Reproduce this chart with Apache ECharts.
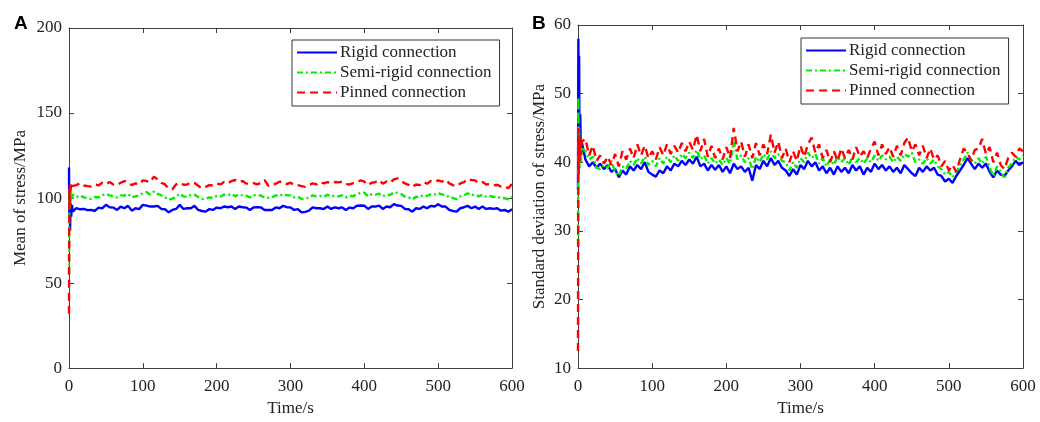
<!DOCTYPE html>
<html>
<head>
<meta charset="utf-8">
<script src="https://cdn.jsdelivr.net/npm/echarts@6/dist/echarts.min.js"></script>
<style>html,body{margin:0;padding:0;background:#fff}#c{width:1040px;height:422px}</style>
</head>
<body>
<div id="c"></div>
<script>
// Time stamps (s)
const time = [0,0.5,1,1.5,2,3,4,5,
10,15,20,25,30,35,40,45,50,55,
60,65,70,75,80,85,90,95,100,105,
110,115,120,125,130,135,140,145,150,155,
160,165,170,175,180,185,190,195,200,205,
210,215,220,225,230,235,240,245,250,255,
260,265,270,275,280,285,290,295,300,305,
310,315,320,325,330,335,340,345,350,355,
360,365,370,375,380,385,390,395,400,405,
410,415,420,425,430,435,440,445,450,455,
460,465,470,475,480,485,490,495,500,505,
510,515,520,525,530,535,540,545,550,555,
560,565,570,575,580,585,590,595,600];

const seriesNames = ['Rigid connection','Semi-rigid connection','Pinned connection'];
const xTicks = [0,100,200,300,400,500,600];
const yTicksMean = [0,50,100,150,200];
const yTicksStd = [10,20,30,40,50,60];

// Panel A: mean of stress (MPa)
const meanRigid = [118,86,100,81,97,89,96,92,
94.1,93.4,93.6,92.9,93.0,92.4,94.4,93.9,96.0,94.6,
94.4,93.0,95.0,94.0,95.4,92.6,94.0,93.5,96.0,95.5,
95.0,95.0,95.4,93.6,93.4,91.6,93.0,93.6,96.0,93.6,
94.0,94.0,95.4,93.0,92.4,92.0,93.5,93.0,94.4,94.0,
95.0,94.6,95.0,93.6,95.0,94.6,94.4,93.0,94.5,94.6,
94.5,93.0,93.0,93.0,94.5,94.0,95.4,94.6,94.5,93.0,
93.5,91.6,91.9,92.6,94.5,94.0,94.0,93.5,95.0,93.6,
94.5,94.0,94.5,93.0,94.4,94.0,95.5,95.6,95.5,93.6,
95.0,95.0,95.5,93.6,95.0,94.6,96.4,95.6,95.4,93.6,
93.4,92.0,94.0,93.6,95.0,94.0,95.4,95.0,96.4,95.0,
95.0,93.0,92.4,92.0,94.0,94.6,95.4,94.0,95.0,93.6,
95.0,93.6,94.0,93.6,94.0,92.6,93.0,92.0,93.4];
const meanSemi = [55,105,93,103,97,104,99,102,
100.5,101.6,100.4,100.0,99.5,100.6,100.4,101.6,102.4,101.6,
101.0,100.4,101.6,101.4,102.4,100.4,101.0,101.5,103.0,103.5,
102.0,103.8,102.4,101.6,100.5,99.0,99.6,100.8,102.6,101.0,
100.6,101.8,102.0,100.6,99.4,99.6,100.4,100.0,101.2,100.8,
102.0,101.6,102.4,101.0,102.2,101.6,101.4,100.4,101.6,101.8,
101.4,100.2,100.2,100.4,101.6,101.2,102.4,101.6,101.6,100.4,
100.8,99.4,99.6,100.2,101.6,101.0,101.2,100.6,102.0,101.0,
101.4,101.0,101.6,100.4,101.4,101.0,102.4,103.0,103.2,101.0,
102.2,102.0,102.6,101.0,102.0,101.8,103.4,103.0,102.4,100.8,
100.4,99.2,100.8,100.6,101.8,101.2,102.2,102.0,103.0,102.0,
102.0,100.4,100.0,99.4,101.0,101.6,102.8,101.6,102.2,101.0,
102.0,100.8,101.2,100.6,101.0,99.8,100.0,99.2,100.6];
const meanPinned = [32,106,96,108,104,109,107,108,
107.6,108.8,107.4,107.0,106.8,108.0,107.4,109.0,108.0,109.4,
108.0,107.6,109.0,110.0,109.4,107.6,108.6,108.0,110.4,110.0,
109.4,112.6,111.0,109.0,108.0,105.6,105.2,108.0,109.0,107.8,
108.0,109.2,108.8,107.2,105.8,106.6,107.6,107.4,108.6,108.0,
109.4,108.6,110.0,110.6,109.4,110.0,108.6,108.2,108.8,108.0,
109.0,110.6,107.2,107.8,108.4,109.6,109.6,108.2,109.0,107.6,
107.6,107.0,106.6,107.6,108.6,108.0,109.4,108.6,109.4,108.6,
109.4,109.2,109.6,108.2,108.0,108.8,109.2,110.4,109.6,107.6,
109.0,109.4,110.6,108.4,109.8,109.0,111.0,111.6,110.0,108.6,
107.8,106.4,108.0,107.6,109.4,108.4,110.0,109.4,110.4,109.6,
110.8,108.6,107.6,107.0,108.6,109.4,111.2,110.6,110.4,108.8,
109.4,108.0,108.2,107.4,107.8,106.8,107.0,105.8,108.4];

// Panel B: standard deviation of stress (MPa)
const stdRigid = [36,58,44,55.5,42,47,41,43,
40.4,39.4,40.0,39.2,39.8,39.0,39.6,38.6,39.0,37.8,
38.8,38.2,39.4,38.8,39.6,39.0,40.0,38.6,38.2,37.9,
38.8,38.4,39.4,38.8,39.8,39.4,40.2,39.6,40.4,39.8,
40.8,39.4,39.8,38.8,39.6,38.9,39.6,38.6,39.4,38.4,
39.8,39.0,39.4,38.6,39.2,37.3,39.6,39.0,40.2,39.4,
40.6,39.6,40.2,39.2,38.8,38.0,39.0,38.2,39.6,39.0,
40.2,39.4,40.0,38.8,39.4,38.4,39.2,38.2,39.4,38.6,
39.2,38.4,39.6,38.8,39.4,38.2,39.2,38.6,39.8,39.0,
39.6,38.8,39.4,38.6,39.2,38.4,39.6,39.0,38.4,38.0,
39.2,38.6,39.4,38.8,39.2,38.2,38.0,37.2,37.6,37.0,
38.0,38.8,39.6,40.6,39.8,39.0,39.8,39.2,39.8,38.6,
37.8,38.8,38.2,38.0,38.8,39.4,40.2,39.6,40.0];
const stdSemi = [28,49.5,40,45,39,43,40,42,
41.6,40.4,40.8,39.2,39.0,39.6,39.2,40.2,38.6,38.0,
39.4,39.0,40.2,39.6,40.6,39.8,40.8,39.6,40.2,39.4,
40.6,39.8,40.8,40.0,41.0,40.2,41.2,40.6,41.4,40.6,
41.8,40.4,41.0,39.8,40.6,39.8,40.4,39.6,40.6,39.8,
43.0,40.4,41.0,40.0,40.6,39.0,40.8,40.0,41.2,40.4,
41.6,40.6,41.2,40.2,40.0,38.8,40.0,39.2,40.6,40.0,
41.4,40.6,41.2,39.8,40.6,39.4,40.4,39.6,40.8,40.0,
40.6,39.6,40.8,40.0,40.6,39.8,40.6,40.0,41.0,40.2,
41.0,40.4,40.8,40.0,40.8,40.2,41.2,40.8,41.4,40.0,
40.4,39.8,40.6,39.8,40.4,39.4,39.0,38.2,38.6,37.8,
38.6,39.4,40.4,41.4,40.4,39.8,40.6,39.8,40.8,39.2,
38.0,39.4,38.6,37.8,39.2,39.8,40.8,40.4,41.0];
const stdPinned = [12.5,45,38,44,40,43.5,41,43,
43.4,41.0,42.4,40.2,41.0,39.8,40.8,39.6,41.2,39.4,
41.6,40.4,42.0,40.6,42.6,41.0,42.4,40.6,41.6,40.4,
42.2,41.0,42.6,41.2,42.4,41.4,42.8,41.6,43.0,41.8,
44.0,41.6,43.4,40.8,42.4,40.6,42.0,40.4,42.2,40.6,
45.0,41.6,43.0,40.8,42.6,40.6,42.8,41.0,42.6,41.2,
44.0,41.4,43.0,40.6,42.0,40.0,41.6,40.2,42.4,40.8,
42.6,43.6,41.4,42.6,40.6,41.8,40.0,41.6,40.2,42.0,
40.6,41.8,40.4,42.2,40.8,41.6,40.6,42.0,43.0,41.0,
42.6,41.2,42.2,40.8,42.4,41.0,42.8,43.6,41.6,42.6,
41.0,42.4,40.6,42.0,40.4,41.0,39.4,40.2,38.8,39.6,
38.6,40.4,42.0,41.4,40.2,41.8,42.0,43.4,41.2,42.2,
40.0,41.4,39.6,39.0,40.6,41.4,40.8,42.0,41.6];

const FONT = 'Liberation Serif, Times New Roman, serif';
const AXIS_COLOR = '#404040';
const TEXT_COLOR = '#222';
const colors = ['#0000ff','#00ee00','#ff0000'];
const lineTypes = ['solid',[6,3,2,3],[8,5]];

function pairs(arr){ return time.map((t,i)=>[t, arr[i]]); }

function mkX(gi, show){
  return {
    type:'value', gridIndex:gi, min:xTicks[0], max:xTicks[xTicks.length-1], interval:100,
    position: show ? 'bottom' : 'top',
    name: show ? 'Time/s' : '', nameLocation:'middle', nameGap:29,
    nameTextStyle:{fontFamily:FONT,fontSize:17,color:TEXT_COLOR},
    axisLine:{show:true,onZero:false,lineStyle:{color:AXIS_COLOR,width:1}},
    axisTick:{show:true,inside:true,length:5,lineStyle:{color:AXIS_COLOR}},
    axisLabel:{show:show,fontFamily:FONT,fontSize:17,color:TEXT_COLOR,margin:10},
    splitLine:{show:false}
  };
}
function mkY(gi, show, ticks, name, gap){
  const step = ticks[1]-ticks[0];
  return {
    type:'value', gridIndex:gi, min:ticks[0], max:ticks[ticks.length-1], interval:step,
    position: show ? 'left' : 'right',
    name: show ? name : '', nameLocation:'middle', nameGap:gap,
    nameTextStyle:{fontFamily:FONT,fontSize:17,color:TEXT_COLOR},
    axisLine:{show:true,onZero:false,lineStyle:{color:AXIS_COLOR,width:1}},
    axisTick:{show:true,inside:true,length:5,lineStyle:{color:AXIS_COLOR}},
    axisLabel:{show:show,fontFamily:FONT,fontSize:17,color:TEXT_COLOR,margin:7},
    splitLine:{show:false}
  };
}

const panels = [[meanRigid,meanSemi,meanPinned],[stdRigid,stdSemi,stdPinned]];
const series = [];
panels.forEach((p,gi)=>{
  p.forEach((arr,k)=>{
    series.push({
      name:seriesNames[k], type:'line', xAxisIndex:gi*2, yAxisIndex:gi*2,
      data:pairs(arr), showSymbol:false, symbol:'none', animation:false,
      lineStyle:{color:colors[k],width:2.4,type:lineTypes[k]}, itemStyle:{color:colors[k]},
      z: 2+k
    });
  });
});

function mkLegend(left, top){
  return {
    orient:'vertical', left:left, top:top, itemWidth:40, itemHeight:12, itemGap:3,
    padding:[4,8,5,4], borderColor:'#333', borderWidth:1, backgroundColor:'#fff',
    selectedMode:false, data:seriesNames,
    itemStyle:{opacity:0, borderWidth:0},
    lineStyle:{width:2},
    textStyle:{fontFamily:FONT,fontSize:17,color:TEXT_COLOR,padding:[0,0,0,-2]}
  };
}

const chart = echarts.init(document.getElementById('c'), null, {renderer:'canvas'});
chart.setOption({
  animation:false,
  backgroundColor:'#fff',
  title:[
    {text:'A',left:9,top:9,textStyle:{fontFamily:'Liberation Sans, Arial, sans-serif',fontWeight:'bold',fontSize:19,color:'#000'}},
    {text:'B',left:527,top:9,textStyle:{fontFamily:'Liberation Sans, Arial, sans-serif',fontWeight:'bold',fontSize:19,color:'#000'}}
  ],
  grid:[
    {left:69,top:28,width:443,height:345},
    {left:578,top:25,width:445,height:348}
  ],
  legend:[mkLegend(292,40), mkLegend(801,38)],
  xAxis:[mkX(0,true),mkX(0,false),mkX(1,true),mkX(1,false)],
  yAxis:[mkY(0,true,yTicksMean,'Mean of stress/MPa',40),mkY(0,false,yTicksMean,'',40),
         mkY(1,true,yTicksStd,'Standard deviation of stress/MPa',30),mkY(1,false,yTicksStd,'',30)],
  series:series
});
</script>
</body>
</html>
